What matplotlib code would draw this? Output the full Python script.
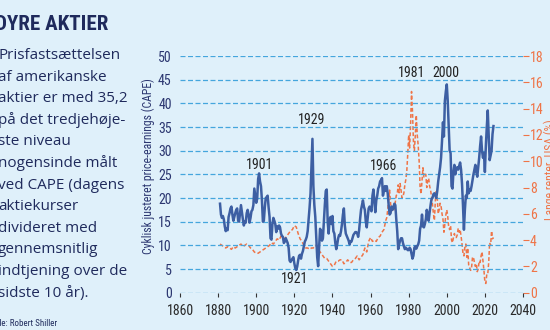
import os
import numpy as np
import matplotlib
matplotlib.use("Agg")
import matplotlib.pyplot as plt
from matplotlib import font_manager as fm
from matplotlib.font_manager import FontProperties

# ---------------- data ----------------
cape_start, cape_end = 1881.0, 2024.5  # half-year steps
cape = [
    18.8, 16.5, 15.8, 16.2, 15.5, 14.0, 13.0, 13.5, 13.2, 16.0,   # 1881-1885
    16.8, 17.8, 18.2, 16.5, 15.2, 16.0, 16.8, 17.5, 17.8, 15.2,   # 1886-1890
    15.0, 16.8, 18.5, 17.0, 15.5, 14.2, 15.0, 14.8, 16.8, 17.5,   # 1891-1895
    16.5, 14.8, 15.8, 17.2, 17.5, 18.5, 22.0, 20.5, 19.0, 19.8,   # 1896-1900
    24.0, 25.2, 23.5, 22.5, 19.5, 15.0, 15.2, 18.0, 20.0, 20.2,   # 1901-1905
    20.5, 18.0, 16.0, 11.5, 11.2, 14.5, 15.8, 15.2, 14.5, 12.8,   # 1906-1910
    14.0, 13.5, 14.2, 13.8, 12.5, 12.0, 11.8, 10.5, 10.8, 11.5,   # 1911-1915
    11.0, 10.5, 9.5, 6.8, 6.5, 6.9, 7.2, 7.5, 6.2, 5.2,           # 1916-1920
    4.8, 5.5, 6.8, 7.8, 8.0, 7.2, 8.2, 8.8, 9.8, 10.8,            # 1921-1925
    11.2, 11.8, 13.0, 15.5, 18.0, 21.0, 27.0, 32.5, 22.5, 18.5,   # 1926-1930
    16.0, 11.5, 7.5, 5.6, 9.5, 13.5, 13.0, 11.0, 11.5, 15.0,      # 1931-1935
    18.5, 21.5, 21.8, 15.0, 12.5, 15.5, 16.0, 14.5, 16.2, 13.0,   # 1936-1940
    12.5, 10.5, 9.2, 10.2, 11.5, 12.2, 12.0, 13.0, 14.5, 16.5,    # 1941-1945
    17.8, 14.2, 12.5, 12.0, 11.5, 11.0, 10.2, 10.8, 10.8, 11.5,   # 1946-1950
    12.2, 12.5, 12.8, 12.8, 12.5, 11.8, 13.2, 15.5, 17.5, 18.5,   # 1951-1955
    19.5, 18.2, 17.5, 15.0, 13.8, 15.8, 17.8, 18.2, 17.8, 17.2,   # 1956-1960
    20.5, 21.8, 19.5, 17.0, 19.5, 20.5, 22.0, 22.5, 23.5, 23.8,   # 1961-1965
    24.2, 20.5, 21.5, 22.5, 21.5, 22.5, 21.0, 18.5, 16.5, 16.8,   # 1966-1970
    18.2, 17.5, 18.0, 18.8, 18.5, 15.5, 13.0, 9.2, 10.2, 11.0,    # 1971-1975
    11.5, 11.5, 10.5, 9.8, 9.2, 9.5, 9.3, 9.0, 9.0, 9.5,          # 1976-1980
    9.2, 8.2, 7.2, 7.8, 9.5, 9.8, 9.3, 9.8, 10.2, 11.0,           # 1981-1985
    13.5, 14.2, 16.5, 14.0, 13.8, 14.5, 15.5, 17.5, 16.5, 15.2,   # 1986-1990
    17.0, 18.5, 19.8, 20.0, 20.8, 21.0, 20.5, 20.0, 21.5, 23.5,   # 1991-1995
    25.0, 26.5, 28.5, 32.0, 36.0, 33.0, 40.5, 42.5, 44.0, 40.5,   # 1996-2000
    35.5, 30.0, 29.5, 22.5, 22.0, 25.5, 27.0, 25.0, 26.2, 26.5,   # 2001-2005
    26.0, 26.8, 27.5, 26.0, 23.0, 18.5, 13.3, 17.5, 20.5, 20.0,   # 2006-2010
    23.5, 21.0, 21.8, 21.5, 22.5, 23.8, 25.0, 26.0, 27.0, 25.5,   # 2011-2015
    24.5, 26.5, 28.5, 31.0, 33.0, 30.0, 28.5, 29.5, 25.5, 31.0,   # 2016-2020
    35.0, 38.5, 33.5, 28.0, 29.0, 30.0, 33.5, 35.2,               # 2021-2024
]
cape_years = np.linspace(cape_start, cape_end, len(cape))

rate_years_annual = np.arange(1881, 1968)
rate_annual = [
    3.7, 3.6, 3.5, 3.4, 3.5, 3.4, 3.3, 3.5, 3.4, 3.5,   # 1881-1890
    3.6, 3.7, 3.5, 3.6, 3.7, 3.6, 3.4, 3.3, 3.1, 3.0,   # 1891-1900
    3.0, 3.1, 3.2, 3.3, 3.4, 3.5, 3.6, 3.8, 3.7, 3.9,   # 1901-1910
    4.1, 4.0, 4.3, 4.2, 4.1, 4.3, 4.5, 4.7, 4.8, 5.1,   # 1911-1920
    5.0, 4.5, 4.1, 3.9, 3.6, 3.4, 3.4, 3.3, 3.4, 3.4,   # 1921-1930
    3.6, 3.5, 3.2, 3.0, 2.8, 2.6, 2.6, 2.4, 2.2, 2.0,   # 1931-1940
    2.1, 2.4, 2.4, 2.5, 2.5, 2.2, 2.3, 2.5, 2.3, 2.3,   # 1941-1950
    2.5, 2.6, 2.8, 2.5, 2.7, 2.9, 3.4, 3.1, 3.9, 4.2,   # 1951-1960
    3.9, 4.0, 3.9, 4.2, 4.3, 4.6, 4.8,                  # 1961-1967
]
rate_start_half, rate_end_half = 1968.0, 2024.5
rate_half = [
    5.5, 5.7, 6.3, 7.0, 7.8, 6.8, 6.2, 6.5, 6.2, 6.4,        # 1968-1972
    6.9, 7.4, 7.5, 8.2, 7.6, 8.3, 7.8, 7.2, 7.3, 7.6,        # 1973-1977
    8.2, 8.6, 9.2, 10.5, 12.0, 11.0, 12.8, 15.3, 13.8, 11.5, # 1978-1982
    10.8, 12.0, 13.5, 12.0, 11.2, 10.0, 8.0, 7.5, 8.5, 9.5,  # 1983-1987
    8.8, 9.0, 9.0, 8.0, 8.6, 8.7, 8.1, 7.8, 7.3, 6.7,        # 1988-1992
    6.0, 5.5, 7.0, 7.8, 7.2, 6.0, 6.3, 6.8, 6.6, 6.0,        # 1993-1997
    5.6, 4.6, 5.2, 5.9, 6.3, 5.8, 5.0, 4.8, 5.1, 4.0,        # 1998-2002
    3.8, 4.2, 4.5, 4.2, 4.2, 4.4, 4.9, 4.6, 4.8, 4.3,        # 2003-2007
    3.7, 3.0, 2.8, 3.5, 3.7, 2.7, 3.4, 2.1, 1.9, 1.7,        # 2008-2012
    1.9, 2.7, 2.7, 2.3, 2.0, 2.2, 1.6, 1.8, 2.4, 2.3,        # 2013-2017
    2.8, 3.1, 2.4, 1.7, 0.8, 0.7, 1.4, 1.4, 2.3, 3.8,        # 2018-2022
    3.6, 4.7, 4.1, 4.2,                                      # 2023-2024
]
rate_years = np.concatenate([rate_years_annual,
                             np.linspace(rate_start_half, rate_end_half, len(rate_half))])
rates = np.array(rate_annual + rate_half)

peak_labels = ["1901", "1929", "1921", "1966", "1981", "2000"]
peak_x = [1901.8, 1929.2, 1920.3, 1966.8, 1981.8, 1999.5]
peak_y = [27.0, 36.5, 2.9, 26.8, 46.4, 46.4]

x_ticks = list(range(1860, 2041, 20))
left_ticks = list(range(0, 51, 5))
right_ticks = list(range(0, 19, 2))

title = "DYRE AKTIER"
body_lines = ["Prisfastsættelsen", "af amerikanske", "aktier er med 35,2",
              "på det tredjehøje-", "ste niveau", "nogensinde målt",
              "ved CAPE (dagens", "aktiekurser", "divideret med",
              "gennemsnitlig", "indtjening over de", "sidste 10 år)."]
source = "Kilde: Robert Shiller"
left_label = "Cyklisk justeret price-earnings (CAPE)"
right_label = "Lange renter, USA (%)"

# ---------------- fonts ----------------
def find_font(patterns):
    for pat in patterns:
        for f in fm.fontManager.ttflist:
            if os.path.basename(f.fname).lower() == pat.lower():
                return f.fname
    return None

cond_reg = find_font(["LiberationSansNarrow-Regular.ttf", "RobotoCondensed-Regular.ttf",
                      "DejaVuSansCondensed.ttf", "OpenSans_Condensed-Regular.ttf"])
cond_bold = find_font(["LiberationSansNarrow-Bold.ttf", "RobotoCondensed-Bold.ttf",
                       "DejaVuSansCondensed-Bold.ttf", "OpenSans_Condensed-Bold.ttf"])

def cond(size, bold=False):
    path = cond_bold if bold else cond_reg
    if path:
        return FontProperties(fname=path, size=size)
    return FontProperties(family="DejaVu Sans", size=size,
                          weight="bold" if bold else "normal", stretch="condensed")

names = {f.name for f in fm.fontManager.ttflist}
body_font = "Open Sans" if "Open Sans" in names else "DejaVu Sans"

BG = "#dff0fa"
NAVY = "#1f2a5c"
BLUE = "#3d5fa3"
ORANGE = "#ef7447"
GRID = "#45a6dd"

W, H = 550, 330
fig = plt.figure(figsize=(W / 100, H / 100), dpi=100, facecolor=BG)

ax = fig.add_axes([180 / W, 1 - 292.7 / H, (523 - 180) / W, (292.7 - 56) / H])
ax2 = ax.twinx()
ax.set_zorder(ax2.get_zorder() + 1)
ax.patch.set_visible(False)
ax2.patch.set_visible(False)

ax.plot(cape_years, cape, color=BLUE, lw=1.8, solid_joinstyle="round", zorder=3)
ax2.plot(rate_years, rates, color=ORANGE, lw=1.1, ls=(0, (2.5, 1.5)), zorder=2)

ax.set_xlim(1860, 2040)
ax.set_ylim(0, 50)
ax2.set_ylim(0, 18)

for a in (ax, ax2):
    for s in a.spines.values():
        s.set_visible(False)

ax.set_yticks(left_ticks)
ax.yaxis.grid(True, color=GRID, lw=0.9, ls=(0, (4, 2)))
ax.set_axisbelow(True)
ax.tick_params(axis="y", length=0, pad=6, labelcolor="#2b3670")
for t in ax.get_yticklabels():
    t.set_fontproperties(cond(10))

ax.set_xticks(x_ticks)
ax.tick_params(axis="x", length=3, width=0.8, color="#333333", pad=5,
               labelcolor="#2a2a2a")
for t in ax.get_xticklabels():
    t.set_fontproperties(cond(10))

ax2.set_yticks(right_ticks)
ax2.tick_params(axis="y", length=4, width=0.8, color=ORANGE, pad=1,
                labelcolor=ORANGE)
for t in ax2.get_yticklabels():
    t.set_fontproperties(cond(10))

for lab, xx, yy in zip(peak_labels, peak_x, peak_y):
    ax.text(xx, yy, lab, ha="center", va="center", fontproperties=cond(10),
            color="#222222", zorder=5)

fig.text(148 / W, 1 - 166 / H, left_label, rotation=90, ha="center", va="center",
         fontproperties=cond(8.5), color="#2b3670")
fig.text(550 / W, 1 - 170 / H, right_label, rotation=90, ha="center", va="center",
         fontproperties=cond(8.5), color=ORANGE)

# title: fit its width to the reference (~114 px)
renderer = fig.canvas.get_renderer()
tt = fig.text(108 / W, 1 - 30 / H, title, ha="right", va="baseline",
              fontproperties=cond(17, bold=True), color=NAVY)
wpx = tt.get_window_extent(renderer).width
tsize = 17 * 114 / wpx
tt.set_fontproperties(cond(tsize, bold=True))

for i, line in enumerate(body_lines):
    fig.text(-2 / W, 1 - (59 + i * 21.6) / H, line, ha="left", va="baseline",
             fontsize=11, family=body_font, color=NAVY)

fig.text(57 / W, 1 - 326 / H, source, ha="right", va="baseline",
         fontproperties=cond(6.5), color=NAVY)

fig.savefig("out.png", dpi=100, facecolor=BG)
